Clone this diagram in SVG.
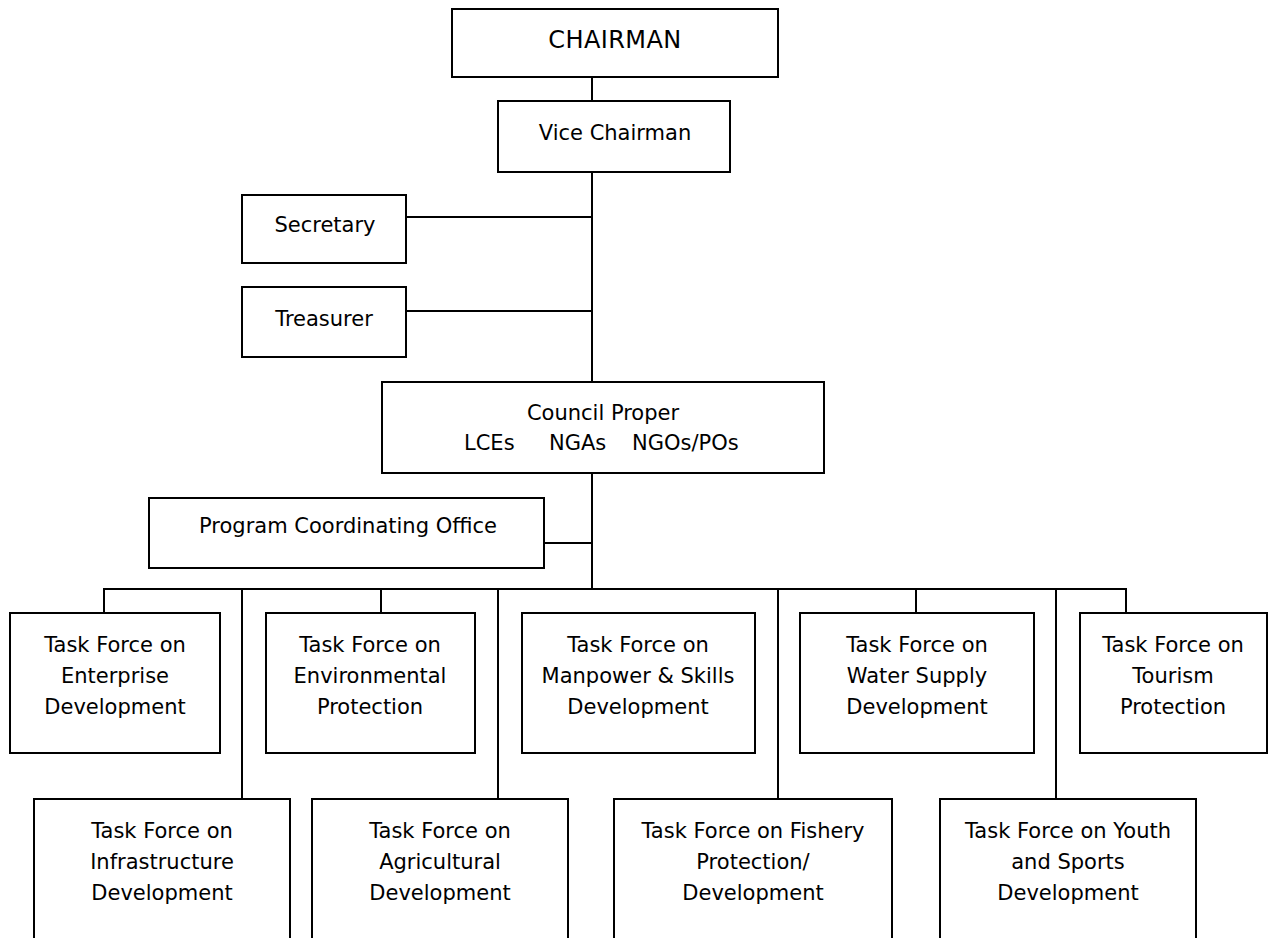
<svg xmlns="http://www.w3.org/2000/svg" width="1269" height="938" viewBox="0 0 1269 938">
<style>
.box{fill:#fff;stroke:#000;stroke-width:2}
.ln{fill:none;stroke:#000;stroke-width:2}
text{font-family:"DejaVu Sans","Liberation Sans",sans-serif;font-size:21px;fill:#000;text-anchor:middle}
.big{font-size:24px;letter-spacing:0.4px}
</style>
<rect width="1269" height="938" fill="#fff"/>
<g id="connectors">
<path class="ln" d="M592 77V101M592 172V382M406 217H592M406 311H592M592 473V589M544 543H592"/>
<path class="ln" d="M104 613V589H1126V613M381 589V613M916 589V613"/>
<path class="ln" d="M242 589V799M498 589V799M778 589V799M1056 589V799"/>
</g>
<g id="chairman"><rect class="box" x="452" y="9" width="326" height="68"/><text class="big" x="615" y="48">CHAIRMAN</text></g>
<g id="vice-chairman"><rect class="box" x="498" y="101" width="232" height="71"/><text x="615" y="140">Vice Chairman</text></g>
<g id="secretary"><rect class="box" x="242" y="195" width="164" height="68"/><text x="325" y="232">Secretary</text></g>
<g id="treasurer"><rect class="box" x="242" y="287" width="164" height="70"/><text x="324" y="326">Treasurer</text></g>
<g id="council"><rect class="box" x="382" y="382" width="442" height="91"/><text x="603" y="420">Council Proper</text><text style="text-anchor:start"><tspan x="464" y="450">LCEs</tspan><tspan x="549" y="450">NGAs</tspan><tspan x="632" y="450">NGOs/POs</tspan></text></g>
<g id="pco"><rect class="box" x="149" y="498" width="395" height="70"/><text x="348" y="533">Program Coordinating Office</text></g>
<g id="tf-enterprise"><rect class="box" x="10" y="613" width="210" height="140"/><text x="115"><tspan x="115" y="652">Task Force on</tspan><tspan x="115" y="683">Enterprise</tspan><tspan x="115" y="714">Development</tspan></text></g>
<g id="tf-environmental"><rect class="box" x="266" y="613" width="209" height="140"/><text x="370"><tspan x="370" y="652">Task Force on</tspan><tspan x="370" y="683">Environmental</tspan><tspan x="370" y="714">Protection</tspan></text></g>
<g id="tf-manpower"><rect class="box" x="522" y="613" width="233" height="140"/><text x="638"><tspan x="638" y="652">Task Force on</tspan><tspan x="638" y="683">Manpower &amp; Skills</tspan><tspan x="638" y="714">Development</tspan></text></g>
<g id="tf-water"><rect class="box" x="800" y="613" width="234" height="140"/><text x="917"><tspan x="917" y="652">Task Force on</tspan><tspan x="917" y="683">Water Supply</tspan><tspan x="917" y="714">Development</tspan></text></g>
<g id="tf-tourism"><rect class="box" x="1080" y="613" width="187" height="140"/><text x="1173"><tspan x="1173" y="652">Task Force on</tspan><tspan x="1173" y="683">Tourism</tspan><tspan x="1173" y="714">Protection</tspan></text></g>
<g id="tf-infrastructure"><rect class="box" x="34" y="799" width="256" height="160"/><text x="162"><tspan x="162" y="838">Task Force on</tspan><tspan x="162" y="869">Infrastructure</tspan><tspan x="162" y="900">Development</tspan></text></g>
<g id="tf-agricultural"><rect class="box" x="312" y="799" width="256" height="160"/><text x="440"><tspan x="440" y="838">Task Force on</tspan><tspan x="440" y="869">Agricultural</tspan><tspan x="440" y="900">Development</tspan></text></g>
<g id="tf-fishery"><rect class="box" x="614" y="799" width="278" height="160"/><text x="753"><tspan x="753" y="838">Task Force on Fishery</tspan><tspan x="753" y="869">Protection/</tspan><tspan x="753" y="900">Development</tspan></text></g>
<g id="tf-youth"><rect class="box" x="940" y="799" width="256" height="160"/><text x="1068"><tspan x="1068" y="838">Task Force on Youth</tspan><tspan x="1068" y="869">and Sports</tspan><tspan x="1068" y="900">Development</tspan></text></g>
</svg>
